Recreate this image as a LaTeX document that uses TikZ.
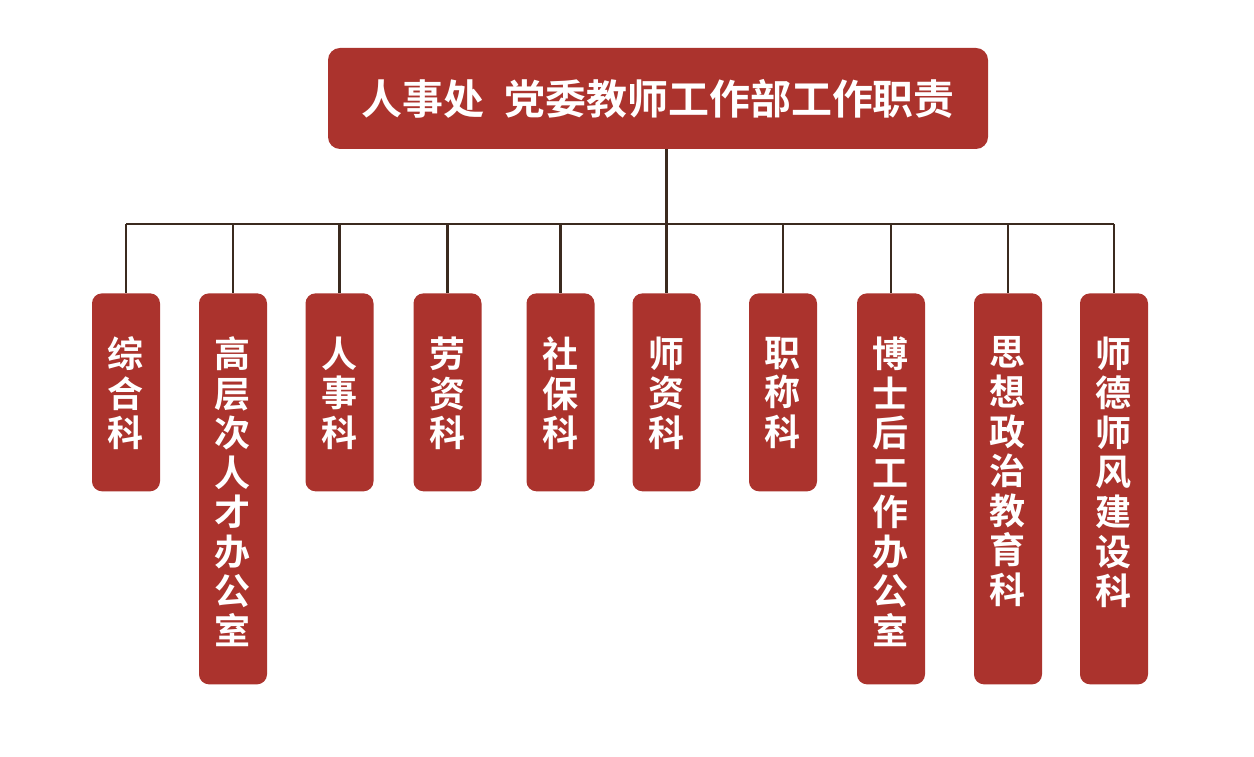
\documentclass[tikz,border=0pt]{standalone}
\usepackage{fontspec}
\newfontfamily\cjk{Noto Sans CJK SC}[BoldFont={Noto Sans CJK SC Bold}]
\usetikzlibrary{calc,positioning}
\definecolor{deptred}{HTML}{AB332D}
\definecolor{linebrown}{HTML}{3B2A1F}
\tikzset{
  titlebox/.style={fill=deptred,rounded corners=0.24cm,minimum width=13.2cm,
    minimum height=2.02cm,text=white,font=\cjk\bfseries\fontsize{23.3pt}{27pt}\selectfont},
  unitbox/.style={fill=deptred,rounded corners=0.2cm,minimum width=1.36cm,
    anchor=north,inner sep=0pt},
  unittext/.style={text=white,anchor=north,align=center,inner sep=0pt,
    font=\cjk\bfseries\fontsize{20.5pt}{22.5pt}\selectfont},
  link/.style={draw=linebrown,line width=1.3pt}
}
\begin{document}
\begin{tikzpicture}
\useasboundingbox (0,0) rectangle (25.08,15.12);
\node[titlebox] (title) at (13.16,13.15) {人事处\hspace{0.5em}党委教师工作部工作职责};
\coordinate (bus) at (0,10.64);
% units: index / x / height / name
\foreach \i/\x/\h/\name in {1/2.52/3.96/综\\合\\科,2/4.66/7.82/高\\层\\次\\人\\才\\办\\公\\室,
  3/6.79/3.96/人\\事\\科,4/8.95/3.96/劳\\资\\科,5/11.21/3.96/社\\保\\科,
  6/13.33/3.96/师\\资\\科,7/15.66/3.96/职\\称\\科,8/17.82/7.82/博\\士\\后\\工\\作\\办\\公\\室,
  9/20.16/7.82/思\\想\\政\\治\\教\\育\\科,10/22.28/7.82/师\\德\\师\\风\\建\\设\\科}{
  \node[unitbox,minimum height=\h cm] (k\i) at (\x,9.26) {};
  \node[unittext] (t\i) at ($(k\i.north)+(0,-0.87)$) {\name};
  \draw[link] (k\i.north) -- (k\i.north |- bus);
}
\draw[link] (k1.north |- bus) -- (k10.north |- bus);
\draw[link] (title.south -| k6.north) -- (k6.north |- bus);
\end{tikzpicture}
\end{document}
